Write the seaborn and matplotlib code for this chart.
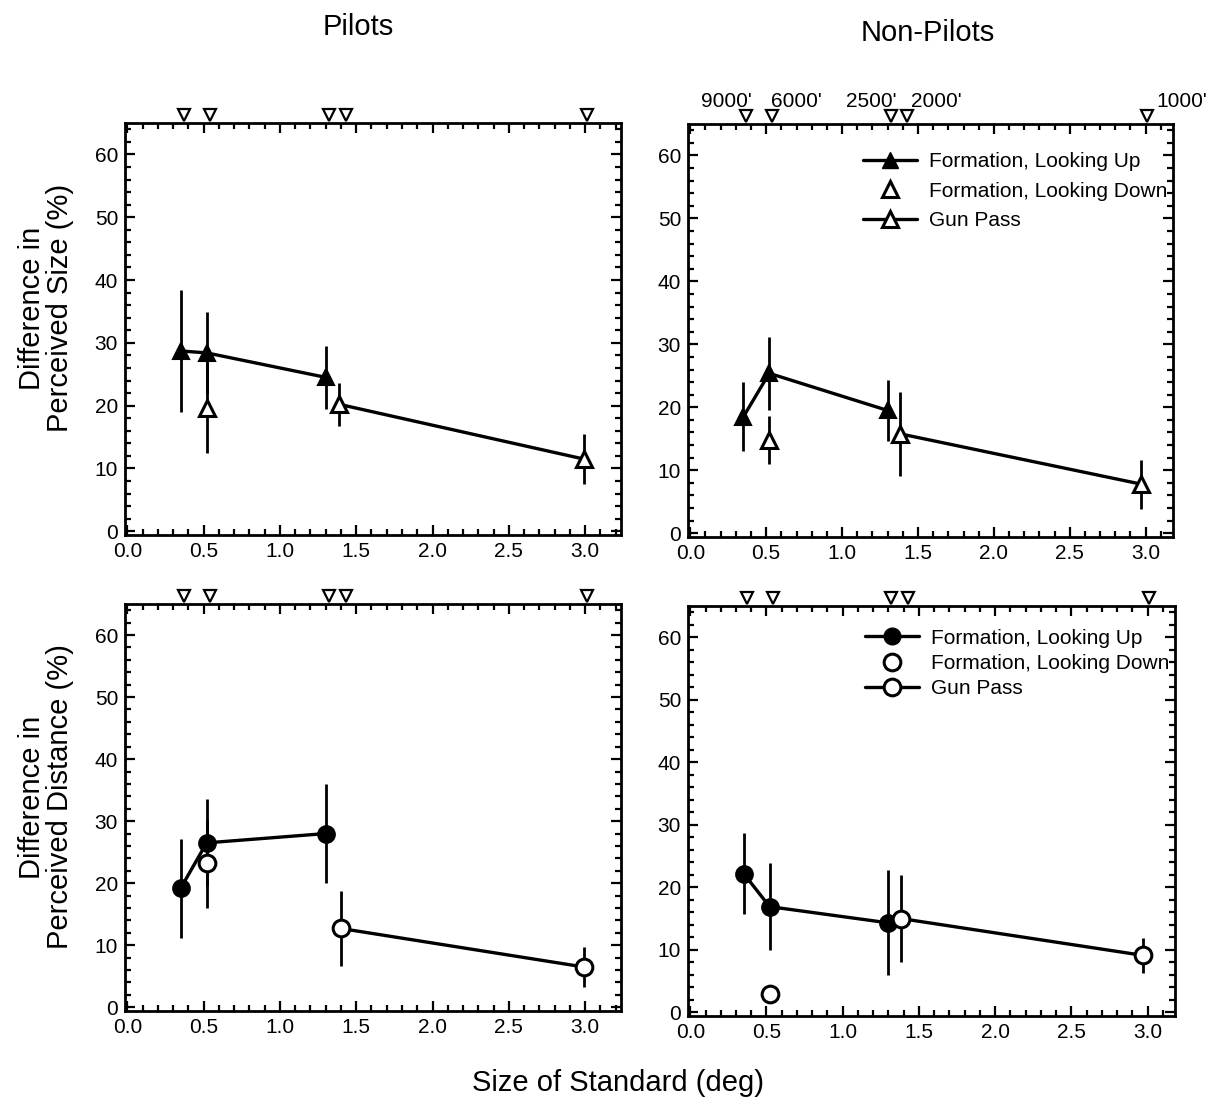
import matplotlib
matplotlib.use("Agg")
import matplotlib.pyplot as plt
from matplotlib.lines import Line2D
from matplotlib.ticker import MultipleLocator
import seaborn as sns
import pandas as pd

sns.set_theme(style="ticks")
plt.rcParams['font.family'] = ['Liberation Sans', 'DejaVu Sans']
plt.rcParams['text.color'] = 'black'
plt.rcParams['axes.labelcolor'] = 'black'
plt.rcParams['xtick.color'] = 'black'
plt.rcParams['ytick.color'] = 'black'

# ---------------- data ----------------
# Pilots, perceived size
ps_up_x = [0.35, 0.52, 1.30]
ps_up_y = [28.7, 28.4, 24.5]
ps_up_e = [9.7, 6.5, 5.0]
ps_down_x = [0.52]
ps_down_y = [19.7]
ps_down_e = [7.2]
ps_gun_x = [1.39, 2.99]
ps_gun_y = [20.2, 11.5]
ps_gun_e = [3.4, 4.0]

# Non-pilots, perceived size
ns_up_x = [0.35, 0.52, 1.30]
ns_up_y = [18.5, 25.4, 19.5]
ns_up_e = [5.5, 5.8, 4.8]
ns_down_x = [0.52]
ns_down_y = [14.8]
ns_down_e = [3.8]
ns_gun_x = [1.38, 2.97]
ns_gun_y = [15.8, 7.8]
ns_gun_e = [6.7, 3.9]

# Pilots, perceived distance
pd_up_x = [0.35, 0.52, 1.30]
pd_up_y = [19.2, 26.5, 28.0]
pd_up_e = [8.0, 7.0, 8.0]
pd_down_x = [0.52]
pd_down_y = [23.2]
pd_down_e = [7.2]
pd_gun_x = [1.40, 2.99]
pd_gun_y = [12.7, 6.5]
pd_gun_e = [6.1, 3.2]

# Non-pilots, perceived distance
nd_up_x = [0.35, 0.52, 1.30]
nd_up_y = [22.2, 16.9, 14.3]
nd_up_e = [6.5, 7.0, 8.4]
nd_down_x = [0.52]
nd_down_y = [2.9]
nd_down_e = [1.4]
nd_gun_x = [1.38, 2.97]
nd_gun_y = [15.0, 9.1]
nd_gun_e = [6.9, 2.8]

# standard sizes marked on top axis, with simulated ranges
std_x = [0.37, 0.54, 1.32, 1.43, 3.01]
alt_labels = ["9000'", "6000'", "2500'", "2000'", "1000'"]
alt_label_x = [0.24, 0.70, 1.19, 1.62, 3.24]

legend_labels = ["Formation, Looking Up", "Formation, Looking Down", "Gun Pass"]

W, H = 1218, 1107
fig = plt.figure(figsize=(W / 100, H / 100), dpi=100)


def px_axes(left, top, right, bottom):
    return fig.add_axes([left / W, 1 - bottom / H, (right - left) / W, (bottom - top) / H])


ax_tl = px_axes(125, 123, 621, 535)
ax_tr = px_axes(688, 124, 1173, 537)
ax_bl = px_axes(125, 604, 621, 1011)
ax_br = px_axes(688, 606, 1175, 1016)

panels = [
    (ax_tl, '^', (ps_up_x, ps_up_y, ps_up_e), (ps_down_x, ps_down_y, ps_down_e), (ps_gun_x, ps_gun_y, ps_gun_e)),
    (ax_tr, '^', (ns_up_x, ns_up_y, ns_up_e), (ns_down_x, ns_down_y, ns_down_e), (ns_gun_x, ns_gun_y, ns_gun_e)),
    (ax_bl, 'o', (pd_up_x, pd_up_y, pd_up_e), (pd_down_x, pd_down_y, pd_down_e), (pd_gun_x, pd_gun_y, pd_gun_e)),
    (ax_br, 'o', (nd_up_x, nd_up_y, nd_up_e), (nd_down_x, nd_down_y, nd_down_e), (nd_gun_x, nd_gun_y, nd_gun_e)),
]

lw = 2.4
ms = 12

for ax, mk, up, down, gun in panels:
    for (xs, ys, es) in (up, down, gun):
        ax.errorbar(xs, ys, yerr=es, fmt='none', ecolor='black', elinewidth=2.0, capsize=0, zorder=2)
    df_up = pd.DataFrame({'x': up[0], 'y': up[1]})
    df_gun = pd.DataFrame({'x': gun[0], 'y': gun[1]})
    df_down = pd.DataFrame({'x': down[0], 'y': down[1]})
    sns.lineplot(data=df_up, x='x', y='y', ax=ax, color='black', linewidth=lw, marker=mk,
                 markersize=ms, markerfacecolor='black', markeredgecolor='black', markeredgewidth=1.5,
                 estimator=None, sort=False, zorder=3)
    sns.lineplot(data=df_gun, x='x', y='y', ax=ax, color='black', linewidth=lw, marker=mk,
                 markersize=ms, markerfacecolor='white', markeredgecolor='black', markeredgewidth=2.2,
                 estimator=None, sort=False, zorder=3)
    ax.plot(df_down['x'], df_down['y'], linestyle='none', marker=mk, markersize=ms,
            markerfacecolor='white', markeredgecolor='black', markeredgewidth=2.2, zorder=3)

    # markers above the top axis
    ax.plot(std_x, [66.3] * len(std_x), linestyle='none', marker='v', markersize=8,
            markerfacecolor='white', markeredgecolor='black', markeredgewidth=1.6, clip_on=False, zorder=5)

    ax.set_xlim(-0.015, 3.235 if ax in (ax_tl, ax_bl) else 3.18)
    ax.set_ylim(-0.6, 65)
    ax.xaxis.set_major_locator(MultipleLocator(0.5))
    ax.xaxis.set_minor_locator(MultipleLocator(0.1))
    ax.yaxis.set_major_locator(MultipleLocator(10))
    ax.yaxis.set_minor_locator(MultipleLocator(2))
    ax.xaxis.set_major_formatter(matplotlib.ticker.FormatStrFormatter('%.1f'))
    ax.tick_params(which='both', direction='in', top=True, right=True, width=1.6, color='black',
                   labelsize=15, labelcolor='black', pad=5)
    ax.tick_params(which='major', length=7)
    ax.tick_params(which='minor', length=4)
    for sp in ax.spines.values():
        sp.set_visible(True)
        sp.set_linewidth(2.0)
        sp.set_color('black')
    ax.set_xlabel('')
    ax.set_ylabel('')
    ax.set_facecolor('white')

# legends
tri_handles = [
    Line2D([], [], color='black', linewidth=lw, marker='^', markersize=ms, markerfacecolor='black'),
    Line2D([], [], color='black', linestyle='none', marker='^', markersize=ms, markerfacecolor='white', markeredgewidth=2.2),
    Line2D([], [], color='black', linewidth=lw, marker='^', markersize=ms, markerfacecolor='white', markeredgewidth=2.2),
]
circ_handles = [
    Line2D([], [], color='black', linewidth=lw, marker='o', markersize=ms, markerfacecolor='black'),
    Line2D([], [], color='black', linestyle='none', marker='o', markersize=ms, markerfacecolor='white', markeredgewidth=2.2),
    Line2D([], [], color='black', linewidth=lw, marker='o', markersize=ms, markerfacecolor='white', markeredgewidth=2.2),
]
ax_tr.legend(tri_handles, legend_labels, loc='upper right', bbox_to_anchor=(1.015, 0.962), frameon=False,
             fontsize=15, handlelength=2.6, handletextpad=0.6, labelspacing=0.5, borderaxespad=0.2)
ax_br.legend(circ_handles, legend_labels, loc='upper right', bbox_to_anchor=(1.015, 0.975), frameon=False,
             fontsize=15, handlelength=2.6, handletextpad=0.6, labelspacing=0.3, borderaxespad=0.2)

# altitude labels above non-pilots panel
for lx, lab in zip(alt_label_x, alt_labels):
    ax_tr.text(lx, 68.6, lab, ha='center', va='center', fontsize=15, clip_on=False)

# titles and labels
fig.text(358 / W, 1 - 27 / H, 'Pilots', ha='center', va='center', fontsize=21)
fig.text(928 / W, 1 - 33 / H, 'Non-Pilots', ha='center', va='center', fontsize=21)
fig.text(46 / W, 1 - 308 / H, 'Difference in\nPerceived Size (%)', ha='center', va='center',
         rotation=90, fontsize=21, linespacing=1.0)
fig.text(46 / W, 1 - 797 / H, 'Difference in\nPerceived Distance (%)', ha='center', va='center',
         rotation=90, fontsize=21, linespacing=1.0)
fig.text(618 / W, 1 - 1083 / H, 'Size of Standard (deg)', ha='center', va='center', fontsize=21)

fig.savefig('out.png', dpi=100, facecolor='white')
